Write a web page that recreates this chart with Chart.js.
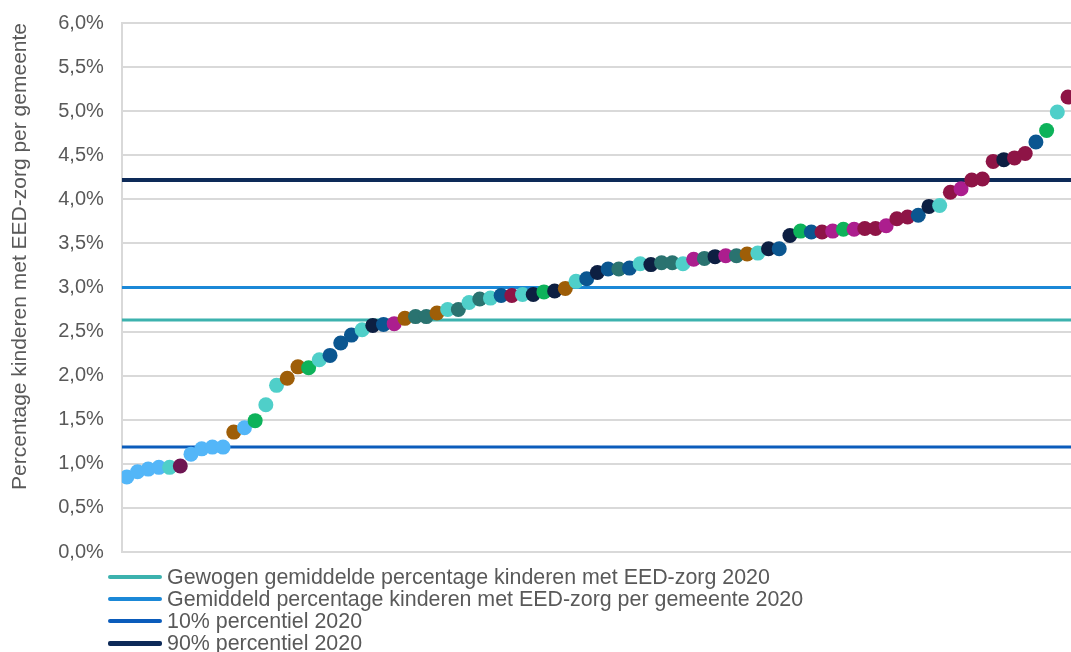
<!DOCTYPE html>
<html>
<head>
<meta charset="utf-8">
<script src="https://cdn.jsdelivr.net/npm/chart.js@4.4.0/dist/chart.umd.min.js"></script>
<style>
  html, body { margin:0; padding:0; background:#fff; overflow:hidden; }
  #wrap { position:relative; width:1071px; height:652px; overflow:hidden; }
  #legend { position:absolute; left:108px; top:566px; font-family:"Liberation Sans", Arial, sans-serif; font-size:21.4px; color:#595959; }
  .lg-row { display:flex; align-items:center; height:22px; line-height:22px; white-space:nowrap; }
  .lg-line { width:54px; height:4px; margin-right:5px; border-radius:2px; }
</style>
</head>
<body>
<div id="wrap">
  <canvas id="chart" width="1071" height="652"></canvas>
  <div id="legend"></div>
</div>
<script>
// percentage per gemeente, sorted
const values = [
  0.85, 0.91, 0.94, 0.96, 0.96, 0.975, 1.11, 1.17, 1.19, 1.19,
  1.36, 1.41, 1.49, 1.67, 1.89, 1.97, 2.10, 2.09, 2.18, 2.23,
  2.37, 2.46, 2.52, 2.57, 2.58, 2.59, 2.65, 2.67, 2.67, 2.71,
  2.75, 2.75, 2.83, 2.87, 2.88, 2.91, 2.91, 2.92, 2.92, 2.95,
  2.96, 2.99, 3.07, 3.10, 3.17, 3.21, 3.21, 3.22, 3.27, 3.26,
  3.28, 3.28, 3.27, 3.32, 3.33, 3.35, 3.36, 3.36, 3.38, 3.39,
  3.44, 3.44, 3.59, 3.64, 3.63, 3.63, 3.64, 3.66, 3.66, 3.67,
  3.67, 3.70, 3.78, 3.80, 3.82, 3.92, 3.93, 4.08, 4.12, 4.22,
  4.23, 4.43, 4.45, 4.47, 4.52, 4.65, 4.78, 4.99, 5.16
];

// colour group per gemeente
const groups = [
  'lb','lb','lb','lb','tq','dm','lb','lb','lb','lb',
  'br','lb','gr','tq','tq','br','br','gr','tq','bl',
  'bl','bl','tq','nv','bl','mg','br','dt','dt','br',
  'tq','dt','tq','dt','tq','bl','mr','tq','nv','gr',
  'nv','br','tq','bl','nv','bl','dt','bl','tq','nv',
  'dt','dt','tq','mg','dt','nv','mg','dt','br','tq',
  'nv','bl','nv','gr','bl','mr','mg','gr','mg','mr',
  'mr','mg','mr','mr','bl','nv','tq','mr','mg','mr',
  'mr','mr','nv','mr','mr','bl','gr','tq','mr'
];

const groupColors = {
  lb:'#53b6f8', tq:'#4fcfc9', dm:'#6e1552', br:'#9e5e08', gr:'#0db25a',
  bl:'#0b5690', nv:'#0d1f42', mg:'#ac1e8e', dt:'#2a7370', mr:'#8e1446'
};

const refLabels = [
  'Gewogen gemiddelde percentage kinderen met EED-zorg 2020',
  'Gemiddeld percentage kinderen met EED-zorg per gemeente 2020',
  '10% percentiel 2020',
  '90% percentiel 2020'
];
const refValues = [2.63, 3.0, 1.19, 4.22];
const refColors = ['#3cb2ae', '#1b88d7', '#0b5cbb', '#0d2a58'];
const refWidths = [3, 3, 3, 4];

const yTicks = [0, 0.5, 1, 1.5, 2, 2.5, 3, 3.5, 4, 4.5, 5, 5.5, 6];

const X_MIN = -0.47, X_MAX = 88.28;
const FONT = '"Liberation Sans", Arial, sans-serif';

const pointData = values.map((v, i) => ({x:i, y:v}));

const datasets = [{
  type:'scatter',
  label:'gemeenten',
  data:pointData,
  backgroundColor:groups.map(g => groupColors[g]),
  pointRadius:7.5,
  pointBorderWidth:0,
  order:0
}];
refValues.forEach((v, k) => {
  datasets.push({
    type:'line',
    label:refLabels[k],
    data:[{x:X_MIN, y:v}, {x:X_MAX, y:v}],
    borderColor:refColors[k],
    borderWidth:refWidths[k],
    pointRadius:0,
    order:1
  });
});

new Chart(document.getElementById('chart'), {
  type:'scatter',
  data:{datasets},
  options:{
    responsive:false,
    animation:false,
    layout:{autoPadding:false, padding:{left:8, top:23, right:0, bottom:100}},
    plugins:{legend:{display:false}, tooltip:{enabled:false}},
    scales:{
      x:{
        type:'linear', min:X_MIN, max:X_MAX,
        ticks:{display:false},
        grid:{display:false, drawTicks:false},
        border:{display:true, color:'#d9d9d9', width:2}
      },
      y:{
        min:0, max:6,
        afterBuildTicks:axis => { axis.ticks = yTicks.map(v => ({value:v})); },
        // tick padding would otherwise push the plot top down
        afterFit:axis => { axis.paddingTop = 12; axis.paddingBottom = 12; },
        ticks:{
          padding:18, color:'#595959', font:{family:FONT, size:20},
          callback:v => v.toFixed(1).replace('.', ',') + '%'
        },
        grid:{color:'#d9d9d9', lineWidth:2, drawTicks:false},
        border:{display:true, color:'#d9d9d9', width:2},
        title:{
          display:true, text:'Percentage kinderen met EED-zorg per gemeente',
          align:'end', color:'#595959', font:{family:FONT, size:21}, padding:{top:0, bottom:7}
        }
      }
    }
  }
});

// legend as html below the chart
const legend = document.getElementById('legend');
refLabels.forEach((lbl, k) => {
  legend.insertAdjacentHTML('beforeend',
    `<div class="lg-row"><div class="lg-line" style="background:${refColors[k]};height:${refWidths[k]+1}px"></div>${lbl}</div>`);
});
</script>
</body>
</html>
